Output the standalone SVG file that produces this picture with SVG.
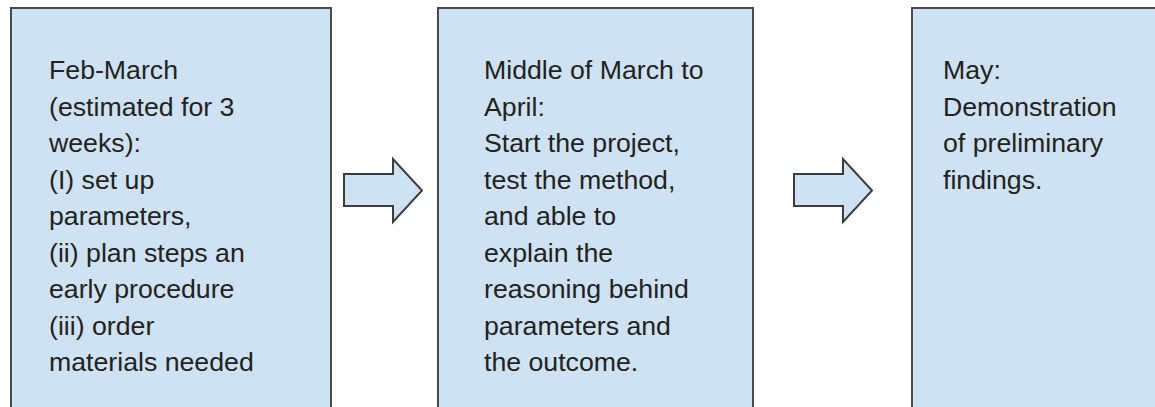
<svg xmlns="http://www.w3.org/2000/svg" width="1155" height="407" viewBox="0 0 1155 407">
  <style>
    .box { fill: #cfe2f3; stroke: #4a4a4a; stroke-width: 2; }
    .arrow { fill: #cfe2f3; stroke: #3c3c3c; stroke-width: 2; stroke-linejoin: miter; }
    .label { font-family: "Liberation Sans", Arial, sans-serif; font-size: 26.7px; fill: #222222; }
  </style>
  <rect width="1155" height="407" fill="#ffffff"/>

  <g id="phase-feb-march">
    <rect class="box" x="11" y="8" width="320" height="400"/>
    <text class="label" x="49" y="79">
      <tspan x="49" dy="0">Feb-March</tspan>
      <tspan x="49" dy="36.5">(estimated for 3</tspan>
      <tspan x="49" dy="36.5">weeks):</tspan>
      <tspan x="49" dy="36.5">(I) set up</tspan>
      <tspan x="49" dy="36.5">parameters,</tspan>
      <tspan x="49" dy="36.5">(ii) plan steps an</tspan>
      <tspan x="49" dy="36.5">early procedure</tspan>
      <tspan x="49" dy="36.5">(iii) order</tspan>
      <tspan x="49" dy="36.5">materials needed</tspan>
    </text>
  </g>

  <g id="phase-march-april">
    <rect class="box" x="438" y="8" width="315" height="400"/>
    <text class="label" x="484" y="79">
      <tspan x="484" dy="0">Middle of March to</tspan>
      <tspan x="484" dy="36.5">April:</tspan>
      <tspan x="484" dy="36.5">Start the project,</tspan>
      <tspan x="484" dy="36.5">test the method,</tspan>
      <tspan x="484" dy="36.5">and able to</tspan>
      <tspan x="484" dy="36.5">explain the</tspan>
      <tspan x="484" dy="36.5">reasoning behind</tspan>
      <tspan x="484" dy="36.5">parameters and</tspan>
      <tspan x="484" dy="36.5">the outcome.</tspan>
    </text>
  </g>

  <g id="phase-may">
    <rect class="box" x="912" y="8" width="260" height="400"/>
    <text class="label" x="943" y="79">
      <tspan x="943" dy="0">May:</tspan>
      <tspan x="943" dy="36.5">Demonstration</tspan>
      <tspan x="943" dy="36.5">of preliminary</tspan>
      <tspan x="943" dy="36.5">findings.</tspan>
    </text>
  </g>

  <g id="connectors">
    <path class="arrow" d="M344 174 H393 V159 L422 190.5 L393 222 V206 H344 Z"/>
    <path class="arrow" d="M794 174 H843 V159 L872 190.5 L843 222 V206 H794 Z"/>
  </g>
</svg>
